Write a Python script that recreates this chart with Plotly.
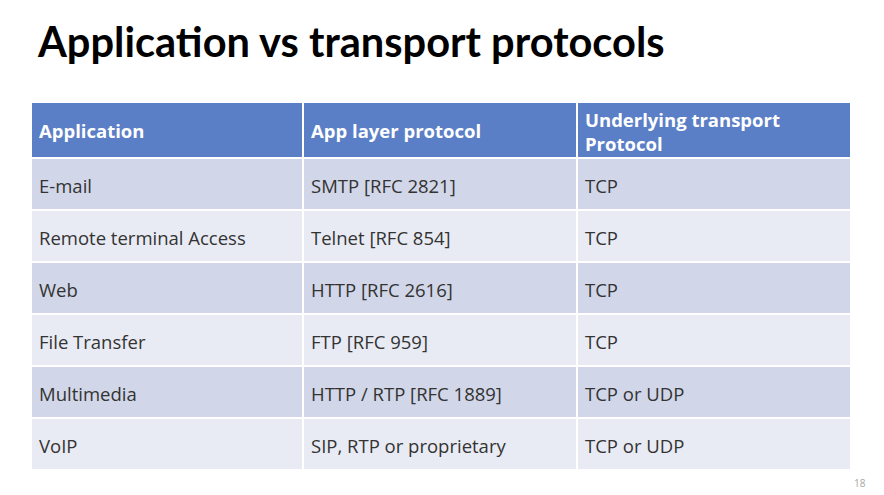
import plotly.graph_objects as go

title = "Application vs transport protocols"
headers = ["Application", "App layer protocol", "Underlying transport<br>Protocol"]
applications = ["E-mail", "Remote terminal Access", "Web", "File Transfer", "Multimedia", "VoIP"]
app_protocols = ["SMTP [RFC 2821]", "Telnet [RFC 854]", "HTTP [RFC 2616]", "FTP [RFC 959]",
                 "HTTP / RTP [RFC 1889]", "SIP, RTP or proprietary"]
transports = ["TCP", "TCP", "TCP", "TCP", "TCP or UDP", "TCP or UDP"]
page_number = "18"

W, H = 884, 495
LEFT, RIGHT, TOP = 31, 851, 102
HEADER_H, ROW_H = 56, 52
n = len(applications)
BOTTOM = TOP + HEADER_H + n * ROW_H + 4
col_w = [272, 274, 274]
row_colors = ["#D1D7E8" if i % 2 == 0 else "#E9EBF4" for i in range(n)]
FONT = "Open Sans"
FS = 18.5
CLEAR = "rgba(0,0,0,0)"
NOLINE = dict(color=CLEAR, width=0)


def ydom(shift):
    return [1 - (BOTTOM + shift) / H, 1 - (TOP + shift) / H]


xdom = [LEFT / W, RIGHT / W]
blank = [[""] * n for _ in range(3)]


def text_table(shift, header_values, cell_values):
    return go.Table(
        domain=dict(x=xdom, y=ydom(shift)),
        columnwidth=col_w,
        header=dict(values=header_values, fill_color=CLEAR, line=NOLINE,
                    font=dict(family=FONT, size=FS, color="white"), align="left", height=HEADER_H),
        cells=dict(values=cell_values, fill_color=CLEAR, line=NOLINE,
                   font=dict(family=FONT, size=FS, color="#333333"), align="left", height=ROW_H),
    )


# cell fills and white grid lines
fig = go.Figure(go.Table(
    domain=dict(x=xdom, y=ydom(0)),
    columnwidth=col_w,
    header=dict(values=["", "", ""], fill_color="#5B7FC6", line=dict(color="white", width=2),
                height=HEADER_H),
    cells=dict(values=blank, fill_color=[row_colors] * 3, line=dict(color="white", width=2),
               height=ROW_H),
))

# texts, vertically centred through shifted (transparent) table domains
fig.add_trace(text_table(13, ["", "", ""], [applications, app_protocols, transports]))
fig.add_trace(text_table(8, [f"<b>{headers[0]}</b>", f"<b>{headers[1]}</b>", ""], blank))
fig.add_trace(text_table(-3, ["", "", f"<b>{headers[2]}</b>"], blank))

fig.add_annotation(x=35 / W, y=1 - 41 / H, xref="paper", yref="paper", text=f"<b>{title}</b>",
                   showarrow=False, xanchor="left", yanchor="middle",
                   font=dict(family="Lato", size=41.6, color="black"))
fig.add_annotation(x=868 / W, y=1 - 483 / H, xref="paper", yref="paper", text=page_number,
                   showarrow=False, xanchor="right", yanchor="middle",
                   font=dict(family=FONT, size=10, color="#A6A6A6"))

fig.update_layout(width=W, height=H, margin=dict(l=0, r=0, t=0, b=0),
                  paper_bgcolor="white", plot_bgcolor="white")
fig.write_html("out.html", config={"displayModeBar": False},
               post_script="document.body.style.margin='0';")
